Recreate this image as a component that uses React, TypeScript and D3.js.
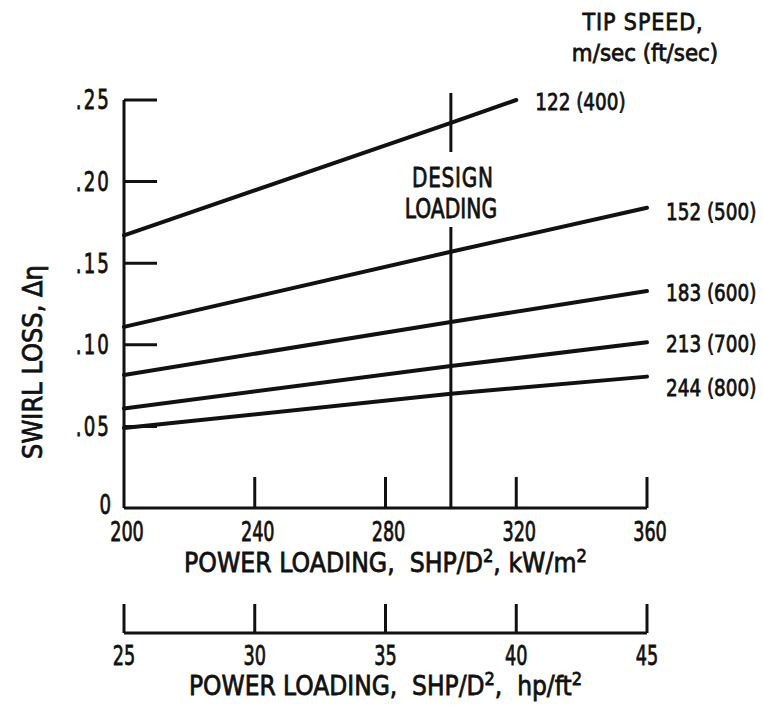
import * as d3 from "d3";
import type { ReactNode } from "react";

// tick values
const kwTicks = [200, 240, 280, 320, 360];
const hpTicks = [25, 30, 35, 40, 45];
const swirlTicks = [0, 0.05, 0.1, 0.15, 0.2, 0.25];
const swirlTickLabels = ["0", ".05", ".10", ".15", ".20", ".25"];

// tip speed curves, m/sec (ft/sec)
const tipSpeedMs = ["122", "152", "183", "213", "244"];
const tipSpeedFts = ["400", "500", "600", "700", "800"];
const loading122 = [200, 300, 320];
const swirl122 = [0.167, 0.236, 0.25];
const loading152 = [200, 300, 360];
const swirl152 = [0.111, 0.157, 0.184];
const loading183 = [200, 300, 360];
const swirl183 = [0.0815, 0.114, 0.133];
const loading213 = [200, 300, 360];
const swirl213 = [0.061, 0.087, 0.1015];
const loading244 = [200, 300, 360];
const swirl244 = [0.049, 0.07, 0.0805];

const designLoading = 300;

const INK = "#111";
const TEXT_WEIGHT = 0.8;

// text squeezed horizontally, the lettering on the original is narrow
function T({
  x,
  y,
  s = 1,
  size = 26,
  anchor = "start",
  spacing = 0,
  rotate = 0,
  children,
}: {
  x: number;
  y: number;
  s?: number;
  size?: number;
  anchor?: string;
  spacing?: number;
  rotate?: number;
  children: ReactNode;
}) {
  return (
    <text
      transform={`translate(${x},${y}) rotate(${rotate}) scale(${s},1)`}
      dy="0.36em"
      textAnchor={anchor}
      fontSize={size}
      letterSpacing={spacing}
      stroke={INK}
      strokeWidth={TEXT_WEIGHT}
      style={{ whiteSpace: "pre" }}
    >
      {children}
    </text>
  );
}

export default function App() {
  const width = 763;
  const height = 707;

  const x = d3.scaleLinear().domain([200, 360]).range([124, 647]);
  const xHp = d3.scaleLinear().domain([25, 45]).range([124, 647]);
  const y = d3.scaleLinear().domain([0, 0.25]).range([508, 100]);

  const axisY = y(0);
  const hpAxisY = 633;

  const series = [
    { xs: loading122, ys: swirl122 },
    { xs: loading152, ys: swirl152 },
    { xs: loading183, ys: swirl183 },
    { xs: loading213, ys: swirl213 },
    { xs: loading244, ys: swirl244 },
  ];
  // small vertical nudges for the end labels
  const labelNudge = [2, 4, 2, 1, 11];

  const line = d3
    .line<[number, number]>()
    .x((d) => x(d[0]))
    .y((d) => y(d[1]));

  const xd = x(designLoading);

  return (
    <svg
      width={width}
      height={height}
      viewBox={`0 0 ${width} ${height}`}
      style={{ position: "absolute", left: 0, top: 0, background: "#fff" }}
      fontFamily="'DejaVu Sans', sans-serif"
      fill={INK}
    >
      {/* y axis */}
      <line x1={x(200)} x2={x(200)} y1={y(0)} y2={y(0.25)} stroke={INK} strokeWidth={3} />
      {swirlTicks.map((t, i) => (
        <g key={t}>
          {t > 0 && (
            <line x1={x(200)} x2={x(200) + 33} y1={y(t)} y2={y(t)} stroke={INK} strokeWidth={3} />
          )}
          <T
            x={x(200) - 13}
            y={t > 0 ? y(t) : y(t) - 3}
            s={0.7}
            size={26}
            anchor="end"
            spacing={t > 0 ? 3 : 0}
          >
            {swirlTickLabels[i]}
          </T>
        </g>
      ))}
      <T x={33} y={362} s={0.93} rotate={-90} anchor="middle">
        SWIRL LOSS, Δη
      </T>

      {/* kW/m2 axis */}
      <line x1={x(200)} x2={x(360)} y1={axisY} y2={axisY} stroke={INK} strokeWidth={3} />
      {kwTicks.map((t) => (
        <g key={t}>
          {t > 200 && (
            <line x1={x(t)} x2={x(t)} y1={axisY} y2={axisY - 31} stroke={INK} strokeWidth={3} />
          )}
          <T x={x(t) + 3} y={532} s={0.68} size={26} anchor="middle">
            {t}
          </T>
        </g>
      ))}
      <text
        transform={`translate(${(x(200) + x(360)) / 2},572) scale(0.91,1)`}
        textAnchor="middle"
        fontSize={26}
        stroke={INK}
        strokeWidth={TEXT_WEIGHT}
        style={{ whiteSpace: "pre" }}
      >
        {"POWER LOADING,  SHP/D"}
        <tspan dy={-10} fontSize={18}>2</tspan>
        <tspan dy={10}>, kW/m</tspan>
        <tspan dy={-10} fontSize={18}>2</tspan>
      </text>

      {/* hp/ft2 axis */}
      <line x1={xHp(25)} x2={xHp(45)} y1={hpAxisY} y2={hpAxisY} stroke={INK} strokeWidth={3} />
      {hpTicks.map((t) => (
        <g key={t}>
          <line x1={xHp(t)} x2={xHp(t)} y1={hpAxisY} y2={hpAxisY - 29} stroke={INK} strokeWidth={3} />
          <T x={xHp(t)} y={656} s={0.68} size={26} anchor="middle">
            {t}
          </T>
        </g>
      ))}
      <text
        transform={`translate(${(xHp(25) + xHp(45)) / 2},695) scale(0.9,1)`}
        textAnchor="middle"
        fontSize={26}
        stroke={INK}
        strokeWidth={TEXT_WEIGHT}
        style={{ whiteSpace: "pre" }}
      >
        {"POWER LOADING,  SHP/D"}
        <tspan dy={-10} fontSize={18}>2</tspan>
        <tspan dy={10}>{",  hp/ft"}</tspan>
        <tspan dy={-10} fontSize={18}>2</tspan>
      </text>

      {/* design loading */}
      <line x1={xd} x2={xd} y1={93} y2={152} stroke={INK} strokeWidth={3} />
      <line x1={xd} x2={xd} y1={227} y2={axisY} stroke={INK} strokeWidth={3} />
      <T x={xd + 2} y={178} s={0.77} anchor="middle" spacing={1}>
        DESIGN
      </T>
      <T x={xd} y={209} s={0.78} anchor="middle">
        LOADING
      </T>

      {/* curves */}
      {series.map((s, i) => {
        const pts = s.xs.map((v, j) => [v, s.ys[j]] as [number, number]);
        const last = pts[pts.length - 1];
        return (
          <g key={tipSpeedMs[i]}>
            <path d={line(pts) ?? ""} fill="none" stroke={INK} strokeWidth={4} strokeLinecap="round" />
            <T x={x(last[0]) + 19} y={y(last[1]) + labelNudge[i]} s={0.8} size={23}>
              {`${tipSpeedMs[i]} (${tipSpeedFts[i]})`}
            </T>
          </g>
        );
      })}

      {/* legend title */}
      <T x={643} y={22} s={0.9} size={23} anchor="middle" spacing={1}>
        TIP SPEED,
      </T>
      <T x={645} y={53} s={0.93} size={23} anchor="middle">
        m/sec (ft/sec)
      </T>
    </svg>
  );
}
